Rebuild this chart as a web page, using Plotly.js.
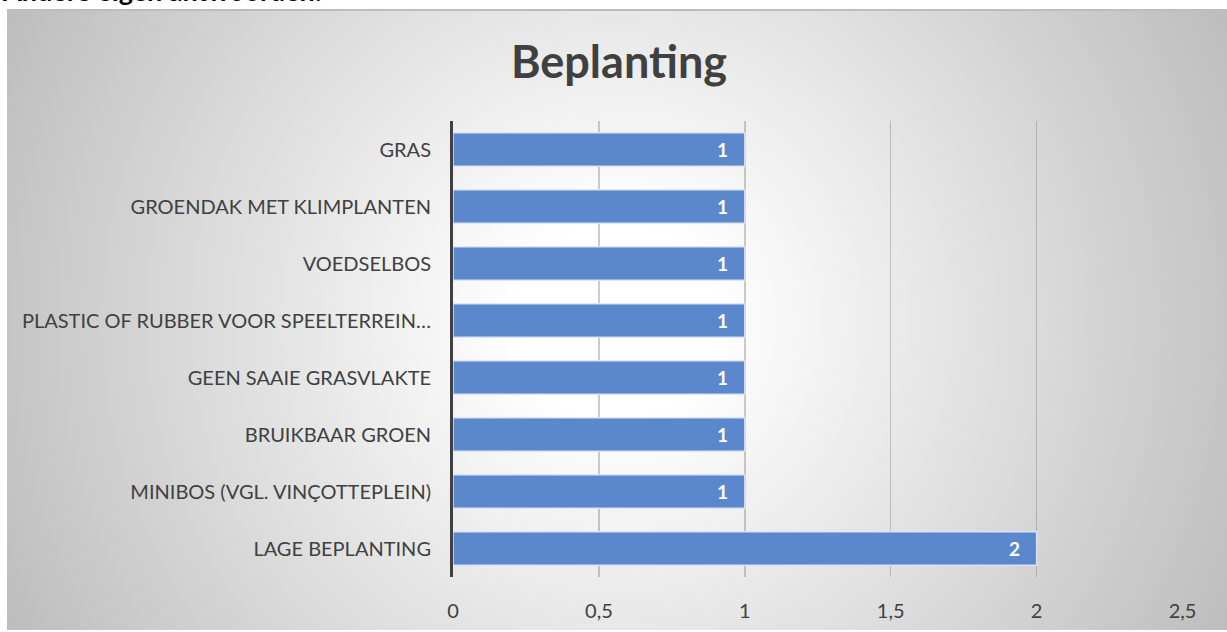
<!DOCTYPE html>
<html>
<head>
<meta charset="utf-8">
<script src="https://cdn.plot.ly/plotly-3.0.1.min.js"></script>
<style>
  html, body { margin: 0; padding: 0; width: 1227px; height: 632px; overflow: hidden; background: #ffffff; }
  #bg { position: absolute; left: 7px; top: 9px; width: 1220px; height: 621px;
        border-top: 2px solid #bdbdbd; box-sizing: border-box;
        background: radial-gradient(circle farthest-corner at 50% 50%, #ffffff 14%, #bdbdbd 100%); }
  #chart { position: absolute; left: 0; top: 0; width: 1227px; height: 632px; }
</style>
</head>
<body>
<div id="bg"></div>
<div id="chart"></div>
<script>
// Data (top to bottom as shown)
const categories = [
  "GRAS",
  "GROENDAK MET KLIMPLANTEN",
  "VOEDSELBOS",
  "PLASTIC OF RUBBER VOOR SPEELTERREIN…",
  "GEEN SAAIE GRASVLAKTE",
  "BRUIKBAAR GROEN",
  "MINIBOS (VGL. VINÇOTTEPLEIN)",
  "LAGE BEPLANTING"
];
const values = [1, 1, 1, 1, 1, 1, 1, 2];
const xTickVals = [0, 0.5, 1, 1.5, 2, 2.5];
const xTickText = ["0", "0,5", "1", "1,5", "2", "2,5"];
const chartTitle = "Beplanting";
const pageHeading = "Andere eigen antwoorden:";

const W = 1227, H = 632;
const margin = { l: 453, r: 44, t: 121, b: 55 };
const FONT = "Lato, 'Open Sans', sans-serif";

const trace = {
  type: "bar",
  orientation: "h",
  y: categories,
  x: values,
  marker: { color: "#5b87cc", line: { color: "rgba(225,233,248,0.9)", width: 1.5 } },
  hoverinfo: "none"
};

const valueLabels = categories.map((c, i) => ({
  text: "<b>" + String(values[i]) + "</b>",
  xref: "x", yref: "y",
  x: values[i], y: c,
  xanchor: "right", yanchor: "middle",
  xshift: -15,
  showarrow: false,
  font: { family: FONT, size: 19, color: "#ffffff" }
}));

const layout = {
  width: W, height: H,
  margin: margin,
  paper_bgcolor: "rgba(0,0,0,0)",
  plot_bgcolor: "rgba(0,0,0,0)",
  separators: ",.",
  bargap: 0.41,
  showlegend: false,
  font: { family: FONT, color: "#404040" },
  title: {
    text: "<b>" + chartTitle + "</b>",
    font: { family: FONT, size: 45, color: "#404040" },
    xref: "container", yref: "container",
    x: 619 / W, y: 1 - 62 / H, xanchor: "center", yanchor: "middle"
  },
  xaxis: {
    range: [0, 2.5015],
    tickvals: xTickVals,
    ticktext: xTickText,
    showgrid: true,
    gridcolor: "rgba(110,110,110,0.35)",
    gridwidth: 1.5,
    zeroline: false,
    showline: false,
    ticks: "",
    ticklabelstandoff: 20,
    tickfont: { size: 20, color: "#404040" },
    fixedrange: true
  },
  yaxis: {
    type: "category",
    autorange: "reversed",
    showgrid: false,
    zeroline: false,
    showline: true,
    linecolor: "#404040",
    linewidth: 3,
    ticks: "",
    ticklabelstandoff: 15,
    tickfont: { size: 20, color: "#404040" },
    fixedrange: true
  },
  annotations: valueLabels.concat([{
    text: "<b>" + pageHeading + "</b>",
    xref: "paper", yref: "paper",
    x: (0 - margin.l) / (W - margin.l - margin.r),
    y: (H - margin.b + 9) / (H - margin.t - margin.b),
    xanchor: "left", yanchor: "middle",
    showarrow: false,
    font: { family: FONT, size: 27, color: "#000000" }
  }])
};

Plotly.newPlot("chart", [trace], layout, { displayModeBar: false, staticPlot: true });
</script>
</body>
</html>
